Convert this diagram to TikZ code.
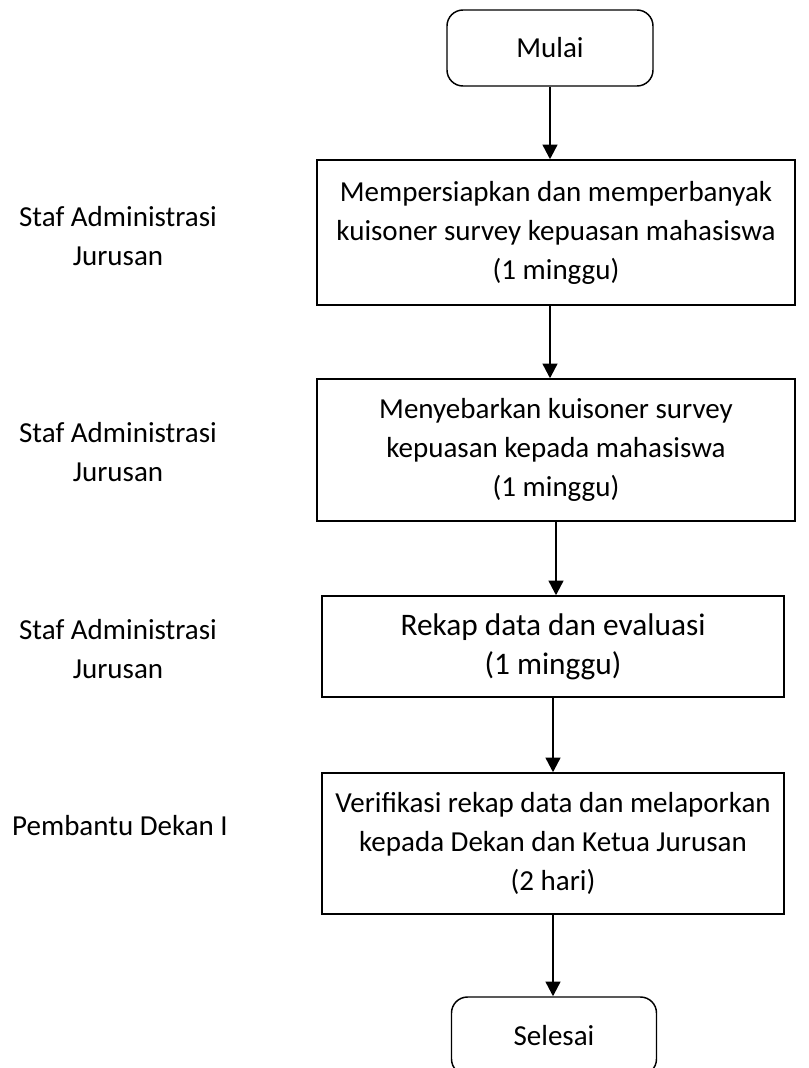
\documentclass[tikz,border=0pt]{standalone}
\usepackage{fontspec}
\setmainfont{Carlito}
\usetikzlibrary{arrows.meta}

\begin{document}
\begin{tikzpicture}[x=0.75pt,y=-0.75pt,line width=1.1pt,>={Triangle[width=11pt,length=11pt]},
  proc/.style={draw,align=center,inner sep=0pt},
  term/.style={proc,rounded corners=12pt},
  flow/.style={line width=1.8pt,->},
  role/.style={align=center}]
\useasboundingbox (0,0) rectangle (809,1068);
\fontsize{21.75}{29.25}\selectfont
% terminators
\node[term,minimum width=206*0.75pt,minimum height=76*0.75pt] (mulai) at (550,48) {Mulai};
\node[term,minimum width=205*0.75pt,minimum height=78*0.75pt] (selesai) at (554,1036) {Selesai};
% process steps
\node[proc,minimum width=478*0.75pt,minimum height=145*0.75pt] (s1) at (556,232.5) {Mempersiapkan dan memperbanyak\\kuisoner survey kepuasan mahasiswa\\(1 minggu)};
\node[proc,minimum width=478*0.75pt,minimum height=142*0.75pt] (s2) at (556,450) {Menyebarkan kuisoner survey\\kepuasan kepada mahasiswa\\(1 minggu)};
\node[proc,minimum width=462*0.75pt,minimum height=101*0.75pt,font=\fontsize{23.5}{29.25}\selectfont] (s3) at (553,646.5) {Rekap data dan evaluasi\\(1 minggu)};
\node[proc,minimum width=462*0.75pt,minimum height=141*0.75pt] (s4) at (553,843.5) {Verifikasi rekap data dan melaporkan\\kepada Dekan dan Ketua Jurusan\\(2 hari)};
% roles
\foreach \y/\n in {236/r1,452/r2,649/r3}{\node[role] (\n) at (118,\y) {Staf Administrasi\\Jurusan};}
\node[role] (r4) at (120,826) {Pembantu Dekan I};
% arrows
\draw[flow] (mulai) -- (mulai|-s1.north);
\draw[flow] (mulai|-s1.south) -- (mulai|-s2.north);
\draw[flow] (s2) -- (s2|-s3.north);
\draw[flow] (s3) -- (s4);
\draw[flow] (s4) -- (s4|-selesai.north);
\end{tikzpicture}
\end{document}
